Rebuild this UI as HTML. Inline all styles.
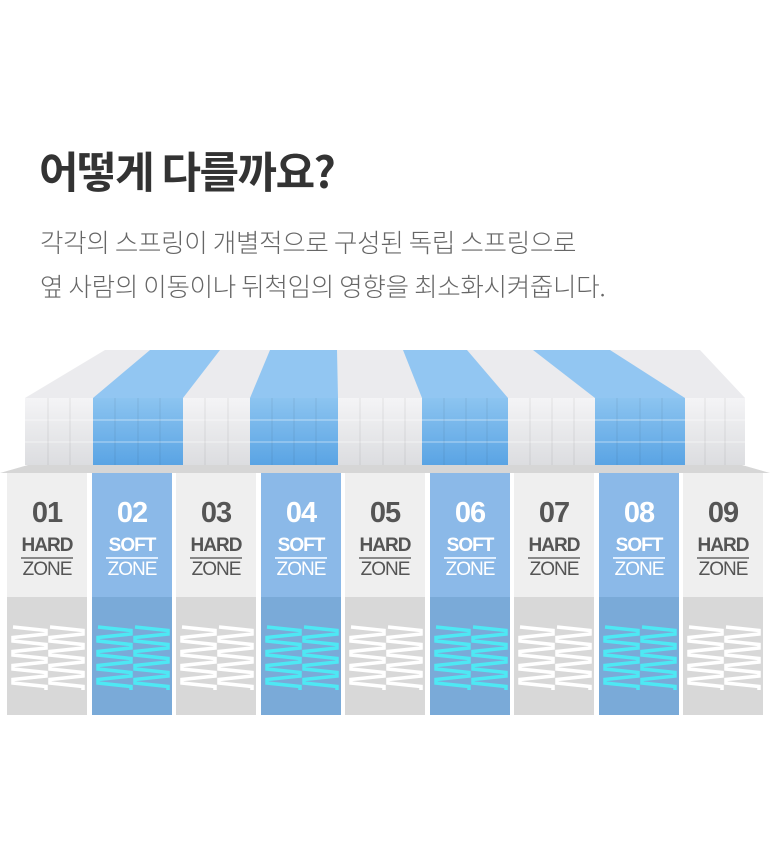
<!DOCTYPE html>
<html><head><meta charset="utf-8"><style>
body{margin:0;width:770px;height:865px;background:#fff;position:relative;overflow:hidden;font-family:"Liberation Sans","Noto Sans CJK KR",sans-serif}
.h{position:absolute;left:39px;top:138px;font-size:43px;font-weight:700;color:#333;letter-spacing:-1.5px;font-family:"Noto Sans CJK KR",sans-serif;line-height:64px}
.p{position:absolute;left:40px;top:220px;font-size:25.5px;font-weight:300;color:#666;line-height:44px;font-family:"Noto Sans CJK KR",sans-serif;letter-spacing:-0.3px}
.col{position:absolute;top:473px;width:80px;height:242px;text-align:center}
.n{position:absolute;top:24px;width:100%;font-size:29px;font-weight:700;letter-spacing:-1px}
.t1{position:absolute;top:62px;left:0;width:100%;font-size:19px;font-weight:700;letter-spacing:-1px}
.ln{position:absolute;top:84px;left:14px;width:52px;height:2px}
.t2{position:absolute;top:86px;width:100%;font-size:19px;letter-spacing:-1px}
.bot{position:absolute;top:124px;left:0;width:80px;height:118px}
</style></head><body>
<div class="h">어떻게 다를까요?</div>
<div class="p">각각의 스프링이 개별적으로 구성된 독립 스프링으로<br>옆 사람의 이동이나 뒤척임의 영향을 최소화시켜줍니다.</div>
<svg style="position:absolute;left:0;top:0" width="770" height="865">
<defs>
<linearGradient id="wf" x1="0" y1="0" x2="0" y2="1"><stop offset="0" stop-color="#f4f4f6"/><stop offset="1" stop-color="#dcdde0"/></linearGradient>
<linearGradient id="bf" x1="0" y1="0" x2="0" y2="1"><stop offset="0" stop-color="#8cc4f0"/><stop offset="1" stop-color="#5aa4e4"/></linearGradient>
</defs>
<polygon points="0,473 28,465 742,465 770,473" fill="#d6d6d6"/>
<polygon points="25,398 105,350 700,350 745,398" fill="#ebebee"/>
<rect x="25" y="398" width="720" height="67" fill="url(#wf)"/>
<g fill="#92c6f2">
<polygon points="93,398 150,350 220,350 183,398"/>
<polygon points="250,398 270,350 337,350 338,398"/>
<polygon points="422,398 403,350 467,350 508,398"/>
<polygon points="595,398 533,350 610,350 685,398"/>
</g>
<g fill="url(#bf)">
<rect x="93" y="398" width="90" height="67"/>
<rect x="250" y="398" width="88" height="67"/>
<rect x="422" y="398" width="86" height="67"/>
<rect x="595" y="398" width="90" height="67"/>
</g>
<g stroke="#ffffff" stroke-opacity="0.5" stroke-width="1">
<path d="M25,420H745M25,442H745"/>
</g>
<g stroke="#000" stroke-opacity="0.08" stroke-width="1">
<path d="M48,398V465M70,398V465M115,398V465M138,398V465M160,398V465M205,398V465M228,398V465M272,398V465M294,398V465M316,398V465M360,398V465M383,398V465M405,398V465M444,398V465M466,398V465M487,398V465M530,398V465M552,398V465M574,398V465M617,398V465M640,398V465M662,398V465M705,398V465M725,398V465"/>
</g>
</svg>
<div id="cols"></div>
<script>
(function(){
var h='';
for(var i=0;i<9;i++){
 var x=Math.round(7+i*84.5), soft=i%2==1;
 var bgt=soft?'#8bb9e8':'#efefef', bgb=soft?'#7aaad8':'#d8d8d8', fc=soft?'#fff':'#555', lc=soft?'#e0efff':'#888', sc=soft?'#4ee8f4':'#fff';
 var z='';
 for(var k=0;k<2;k++){var sx=6+k*37,pts='';for(var j=0;j<=18;j++){var yy=2+Math.floor(j/2)*7+(j%2?3.5:0);var xx=(j%4==0||j%4==3)?sx:sx+33;pts+=xx+','+yy+' ';}
 z+='<polyline points="'+pts+'" fill="none" stroke="'+sc+'" stroke-width="3.5"/>';}
 h+='<div class="col" style="left:'+x+'px;background:'+bgt+'"><div class="n" style="color:'+fc+'">0'+(i+1)+'</div><div class="t1" style="color:'+fc+'">'+(soft?'SOFT':'HARD')+'</div><div class="ln" style="background:'+lc+'"></div><div class="t2" style="color:'+fc+'">ZONE</div><div class="bot" style="background:'+bgb+'"><svg width="80" height="118" style="position:absolute;left:0;top:28px">'+z+'</svg></div></div>';
}
document.getElementById('cols').innerHTML=h;
})();
</script>
</body></html>
